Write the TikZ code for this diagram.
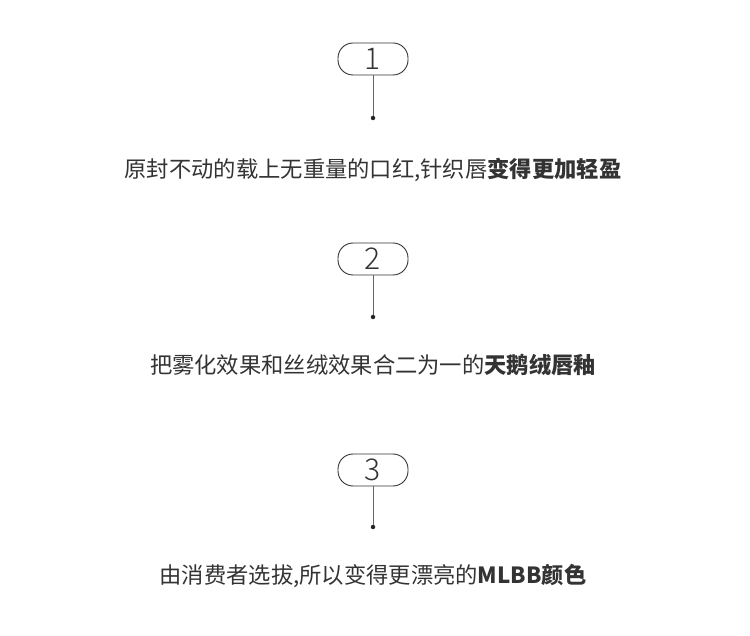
\documentclass[tikz,border=0pt]{standalone}
\usepackage{fontspec}
\setmainfont{Noto Sans CJK SC}
\newfontfamily\cjklight{Noto Sans CJK SC Light}
\begin{document}
\begin{tikzpicture}[x=1pt,y=-1pt,
  pill/.style={draw=black!80,line width=0.9pt,rounded corners=15pt,minimum width=70pt,minimum height=32pt,inner sep=0pt,font=\fontsize{30}{30}\selectfont\cjklight,text=black!80},
  stem/.style={draw=black!60,line width=0.6pt},
  dotc/.style={circle,fill=black!85,inner sep=0pt,minimum size=4.5pt},
  caption/.style={font=\fontsize{22.3}{26}\selectfont,text=black!80}]
\useasboundingbox (0,0) rectangle (750,636);
\node[pill] (p1) at (373,59) {1};
\node[dotc] (d1) at (373,118) {};
\draw[stem] (p1.south) -- (d1);
\node[caption] (t1) at (373,170) {原封不动的载上无重量的口红,针织唇\textbf{变得更加轻盈}};
\node[pill] (p2) at (373,259) {2};
\node[dotc] (d2) at (373,317) {};
\draw[stem] (p2.south) -- (d2);
\node[caption] (t2) at (373,365) {把雾化效果和丝绒效果合二为一的\textbf{天鹅绒唇釉}};
\node[pill] (p3) at (373,470) {3};
\node[dotc] (d3) at (373,527) {};
\draw[stem] (p3.south) -- (d3);
\node[caption] (t3) at (373,576) {由消费者选拔,所以变得更漂亮的\textbf{MLBB颜色}};
\end{tikzpicture}
\end{document}
